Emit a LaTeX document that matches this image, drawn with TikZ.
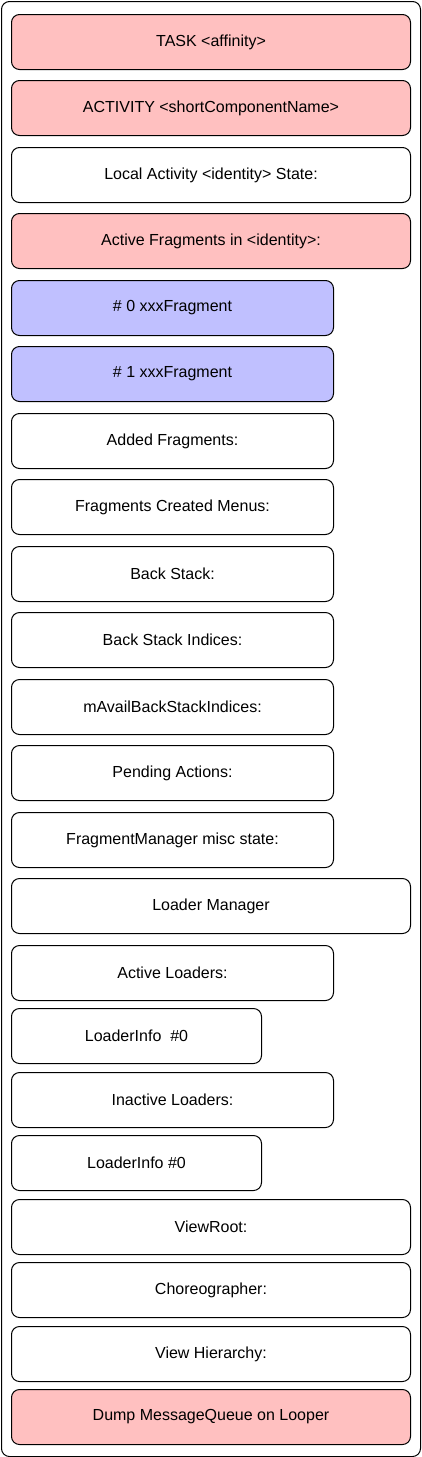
\documentclass[tikz,border=0pt]{standalone}
\usepackage{fontspec}
\setmainfont{Liberation Sans}
\definecolor{pinkfill}{HTML}{FFC0C0}
\definecolor{bluefill}{HTML}{C0C0FF}
\begin{document}
\begin{tikzpicture}[x=1pt,y=-1pt,
  box/.style={draw=black,line width=1pt,rounded corners=8pt,anchor=north west,minimum height=55pt,inner sep=0pt,font=\fontsize{16pt}{19pt}\selectfont,fill=white},
  wide/.style={box,minimum width=399pt},
  mid/.style={box,minimum width=322pt},
  small/.style={box,minimum width=250pt},
  pinkbox/.style={fill=pinkfill},
  bluebox/.style={fill=bluefill}]
\useasboundingbox (0,0) rectangle (421,1457);
\node[draw=black,line width=1pt,rounded corners=8pt,anchor=north west,minimum width=419pt,minimum height=1455pt,inner sep=0pt] (frame) at (1,1) {};
\node[wide,pinkbox] (task) at (11,14) {TASK <affinity>};
\node[wide,pinkbox] (act) at (11,80) {ACTIVITY <shortComponentName>};
\node[wide] (local) at (11,147) {Local Activity <identity> State:};
\node[wide,pinkbox] (actfrag) at (11,213) {Active Fragments in <identity>:};
\node[mid,bluebox] (f0) at (11,280) {\# 0 xxxFragment};
\node[mid,bluebox] (f1) at (11,346) {\# 1 xxxFragment};
\node[mid] (added) at (11,413) {Added Fragments:};
\node[mid] (menus) at (11,479) {Fragments Created Menus:};
\node[mid] (bs) at (11,546) {Back Stack:};
\node[mid] (bsi) at (11,612) {Back Stack Indices:};
\node[mid] (avail) at (11,679) {mAvailBackStackIndices:};
\node[mid] (pending) at (11,745) {Pending Actions:};
\node[mid] (misc) at (11,812) {FragmentManager misc state:};
\node[wide] (lm) at (11,878) {Loader Manager};
\node[mid] (al) at (11,945) {Active Loaders:};
\node[small] (li0) at (11,1008) {LoaderInfo\ \ \#0};
\node[mid] (il) at (11,1072) {Inactive Loaders:};
\node[small] (li1) at (11,1135) {LoaderInfo \#0};
\node[wide] (vr) at (11,1199) {ViewRoot:};
\node[wide] (ch) at (11,1262) {Choreographer:};
\node[wide] (vh) at (11,1326) {View Hierarchy:};
\node[wide,pinkbox] (dump) at (11,1389) {Dump MessageQueue on Looper};
\end{tikzpicture}
\end{document}
